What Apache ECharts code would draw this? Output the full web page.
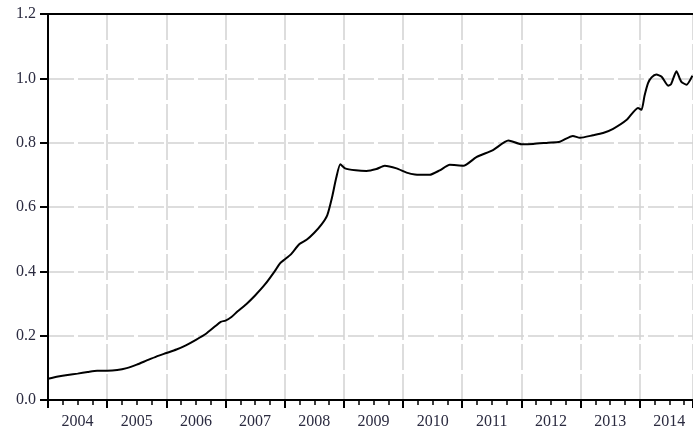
<!DOCTYPE html>
<html>
<head>
<meta charset="utf-8">
<script src="https://cdn.jsdelivr.net/npm/echarts@6/dist/echarts.min.js"></script>
<style>html,body{margin:0;padding:0;background:#fff}#c{width:693px;height:432px}</style>
</head>
<body>
<div id="c"></div>
<script>
var dates = [2004.0, 2004.17, 2004.33, 2004.5, 2004.67, 2004.83, 2005.0, 2005.17, 2005.33, 2005.5, 2005.67, 2005.83,
  2006.0, 2006.17, 2006.33, 2006.5, 2006.67, 2006.83, 2006.92, 2007.0, 2007.1, 2007.2, 2007.35, 2007.5, 2007.67,
  2007.83, 2007.92, 2008.0, 2008.1, 2008.25, 2008.37, 2008.5, 2008.62, 2008.72, 2008.8, 2008.87, 2008.94, 2009.02,
  2009.2, 2009.38, 2009.55, 2009.69, 2009.89, 2010.06, 2010.2, 2010.45, 2010.62, 2010.79, 2011.02, 2011.24, 2011.52,
  2011.78, 2012.0, 2012.2, 2012.45, 2012.65, 2012.87, 2012.99, 2013.21, 2013.38, 2013.55, 2013.78, 2013.97, 2014.03,
  2014.08, 2014.14, 2014.2, 2014.28, 2014.37, 2014.48, 2014.53, 2014.62, 2014.7, 2014.79, 2014.89];
var values = [0.066, 0.073, 0.078, 0.082, 0.087, 0.091, 0.091, 0.093, 0.099, 0.110, 0.123, 0.135,
  0.146, 0.157, 0.170, 0.187, 0.206, 0.230, 0.243, 0.247, 0.258, 0.275, 0.298, 0.325, 0.360,
  0.400, 0.425, 0.437, 0.452, 0.485, 0.498, 0.520, 0.545, 0.575, 0.630, 0.690, 0.733, 0.720,
  0.714, 0.712, 0.718, 0.728, 0.720, 0.707, 0.701, 0.700, 0.714, 0.731, 0.728, 0.755, 0.777,
  0.807, 0.795, 0.796, 0.800, 0.803, 0.821, 0.815, 0.823, 0.830, 0.843, 0.871, 0.908, 0.902,
  0.945, 0.985, 1.003, 1.012, 1.005, 0.977, 0.982, 1.022, 0.990, 0.980, 1.008];
var yearLabels = ['2004','2005','2006','2007','2008','2009','2010','2011','2012','2013','2014'];
var yTicks = [0.0, 0.2, 0.4, 0.6, 0.8, 1.0, 1.2];

var chart = echarts.init(document.getElementById('c'), null, {renderer: 'canvas'});
var gridLine = {show: true, lineStyle: {color: '#d2d2d2', width: 1.5, type: [26, 4]}};
var fontFam = '"Liberation Serif", "DejaVu Serif", serif';
chart.setOption({
  animation: false,
  backgroundColor: '#fff',
  grid: {left: 48, right: 0, top: 14, bottom: 32, containLabel: false},
  xAxis: [{
    type: 'value', position: 'bottom', min: 2004, max: 2014.9, interval: 1,
    axisLine: {show: true, onZero: false, lineStyle: {color: '#000', width: 2}},
    axisTick: {show: true, length: 8, lineStyle: {color: '#000', width: 2}},
    minorTick: {show: true, splitNumber: 4, length: 5, lineStyle: {color: '#000', width: 1.5}},
    splitLine: gridLine,
    axisLabel: {
      customValues: yearLabels.map(function (s) { return Number(s) + 0.5; }),
      formatter: function (v) { return String(Math.floor(v)); },
      fontFamily: fontFam, fontSize: 16, color: '#2b2b40', margin: 14
    }
  }, {
    type: 'value', position: 'top', min: 2004, max: 2014.9,
    axisLine: {show: true, onZero: false, lineStyle: {color: '#000', width: 2}},
    axisTick: {show: false}, axisLabel: {show: false}, splitLine: {show: false}
  }],
  yAxis: {
    type: 'value', min: yTicks[0], max: yTicks[yTicks.length - 1], interval: 0.2,
    axisLine: {show: true, lineStyle: {color: '#000', width: 2}},
    axisTick: {show: true, length: 8, lineStyle: {color: '#000', width: 2}},
    splitLine: gridLine,
    axisLabel: {
      formatter: function (v) { return v.toFixed(1); },
      fontFamily: fontFam, fontSize: 16, color: '#2b2b40', margin: 12
    }
  },
  series: [{
    type: 'line', xAxisIndex: 0,
    data: dates.map(function (d, i) { return [d, values[i]]; }),
    showSymbol: false, smooth: 0.2,
    lineStyle: {color: '#000', width: 2}
  }]
});
</script>
</body>
</html>
